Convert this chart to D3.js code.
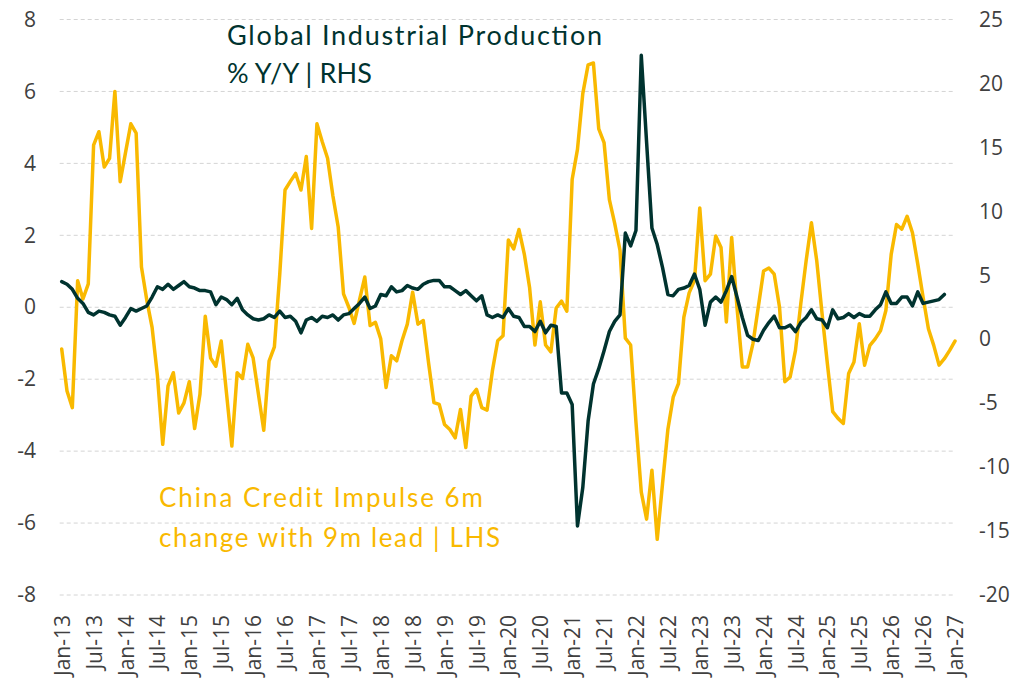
<!DOCTYPE html>
<html>
<head>
<meta charset="utf-8">
<script src="https://cdn.jsdelivr.net/npm/d3@7"></script>
<style>
  body { margin: 0; background: #fff; }
  svg { display: block; }
</style>
</head>
<body>
<div id="vis-container"></div>
<script>
/* CHART */

// x tick labels, one every 6 months (month index 0 = Jan-13)
const tickLabels = ["Jan-13","Jul-13","Jan-14","Jul-14","Jan-15","Jul-15","Jan-16","Jul-16",
	"Jan-17","Jul-17","Jan-18","Jul-18","Jan-19","Jul-19","Jan-20","Jul-20","Jan-21","Jul-21",
	"Jan-22","Jul-22","Jan-23","Jul-23","Jan-24","Jul-24","Jan-25","Jul-25","Jan-26","Jul-26","Jan-27"];

const leftTicks = [-8, -6, -4, -2, 0, 2, 4, 6, 8];
const rightTicks = [-20, -15, -10, -5, 0, 5, 10, 15, 20, 25];

// China credit impulse 6m change, 9m lead (LHS), monthly from Jan-13
const creditImpulse = [
	-1.16,-2.33,-2.79,0.74,0.23,0.65,4.51,4.88,3.9,4.14,6.0,3.49,
	4.3,5.1,4.84,1.12,0.2,-0.56,-1.9,-3.81,-2.19,-1.82,-2.94,-2.66,
	-2.07,-3.37,-2.42,-0.25,-1.41,-1.64,-0.94,-2.4,-3.86,-1.82,-1.98,-1.03,
	-1.41,-2.42,-3.42,-1.5,-1.1,0.9,3.26,3.5,3.72,3.26,4.19,2.19,
	5.1,4.6,4.14,3.1,2.23,0.37,0.0,-0.45,0.2,0.84,-0.51,-0.42,
	-0.88,-2.23,-1.35,-1.49,-0.93,-0.47,0.42,-0.47,-0.37,-1.55,-2.65,-2.7,
	-3.26,-3.4,-3.63,-2.84,-3.9,-2.47,-2.28,-2.79,-2.86,-1.77,-0.93,-0.79,
	1.87,1.62,2.16,1.48,0.54,-1.05,0.15,-1.05,-1.24,-0.02,0.17,-0.11,
	3.55,4.39,5.94,6.74,6.79,4.96,4.58,2.99,2.33,1.58,-0.86,-1.05,
	-3.2,-5.14,-5.89,-4.53,-6.45,-4.9,-3.4,-2.5,-2.12,-0.28,0.4,0.74,
	2.76,0.74,0.92,1.98,1.66,-0.41,1.94,0.0,-1.66,-1.66,-1.01,0.0,
	1.01,1.09,0.92,0.0,-2.07,-1.94,-1.2,0.1,1.29,2.35,1.29,-0.18,
	-1.57,-2.9,-3.09,-3.23,-1.84,-1.52,-0.46,-1.61,-1.06,-0.88,-0.65,-0.09,
	1.47,2.3,2.17,2.53,2.07,1.2,0.28,-0.6,-1.06,-1.61,-1.43,-1.2,
	-0.94
];

// Global industrial production % Y/Y (RHS), monthly from Jan-13
const globalIP = [
	4.5,4.3,3.9,3.2,2.8,2.1,1.9,2.2,2.1,1.9,1.8,1.1,
	1.7,2.4,2.2,2.4,2.6,3.3,4.1,3.9,4.3,3.9,4.2,4.5,
	4.1,4.0,3.8,3.8,3.7,2.7,3.3,3.1,2.7,3.2,2.3,1.9,
	1.6,1.5,1.6,1.9,1.7,2.2,1.7,1.8,1.4,0.5,1.5,1.7,
	1.4,1.8,1.7,1.9,1.5,1.9,2.0,2.4,2.8,3.3,2.4,2.6,
	3.5,3.4,4.1,3.7,3.8,4.2,4.0,3.9,4.3,4.5,4.6,4.6,
	4.1,4.1,3.8,3.5,3.8,3.4,3.0,3.4,1.9,1.7,1.9,1.7,
	2.4,1.8,1.7,1.0,1.0,0.6,1.4,0.5,1.1,1.0,-4.2,-4.2,
	-5.1,-14.6,-11.6,-6.4,-3.5,-2.3,-0.9,0.6,1.4,1.9,8.3,7.3,
	8.5,22.2,15.4,8.7,7.4,5.6,3.5,3.4,3.9,4.0,4.2,5.1,
	3.9,1.1,2.9,3.3,2.9,3.8,4.9,3.3,1.7,0.3,0.0,-0.1,
	0.7,1.3,1.8,0.9,0.9,1.1,0.6,1.3,1.7,2.3,1.6,1.5,
	0.9,2.3,1.6,1.7,2.0,1.7,2.0,1.8,1.8,2.3,2.7,3.7,
	2.8,2.8,3.3,3.3,2.6,3.7,2.8,2.9,3.0,3.1,3.5
];

const width = 1018,
	height = 684,
	plotLeft = 61.7,
	plotRight = 955,
	plotTop = 19.5,
	plotBottom = 595;

const yellow = "#f9b900",
	dark = "#00332f",
	tickFont = "'Open Sans', sans-serif",
	noteFont = "Lato, 'Open Sans', sans-serif";

let x = d3.scaleLinear().domain([0, 168]).range([plotLeft, plotRight]);
let yL = d3.scaleLinear().domain([-8, 8]).range([plotBottom, plotTop]);
let yR = d3.scaleLinear().domain([-20, 25]).range([plotBottom, plotTop]);

let svg = d3.select('#vis-container')
	.append('svg')
	.attr('width', width)
	.attr('height', height);

// dashed gridlines
svg.append("g")
	.selectAll("line")
	.data(leftTicks)
	.join("line")
	.attr("x1", plotLeft - 2)
	.attr("x2", plotRight)
	.attr("y1", d => yL(d))
	.attr("y2", d => yL(d))
	.attr("stroke", "#d4d4d4")
	.attr("stroke-width", 1)
	.attr("stroke-dasharray", "4,3");

// plain hyphen minus, like the original
const fmt = d => String(d);

// left axis
let gL = svg.append("g")
	.attr("transform", "translate(36,0)")
	.call(d3.axisLeft(yL).tickValues(leftTicks).tickFormat(fmt).tickSize(0).tickPadding(0));
gL.select(".domain").remove();
gL.selectAll("text")
	.attr("font-family", tickFont)
	.attr("font-size", 21)
	.attr("fill", "#404040");

// right axis
let gR = svg.append("g")
	.attr("transform", "translate(979,0)")
	.call(d3.axisRight(yR).tickValues(rightTicks).tickFormat(fmt).tickSize(0).tickPadding(0));
gR.select(".domain").remove();
gR.selectAll("text")
	.attr("font-family", tickFont)
	.attr("font-size", 21)
	.attr("fill", "#404040");

// bottom axis, labels rotated
let gX = svg.append("g")
	.attr("transform", `translate(0,${plotBottom})`)
	.call(d3.axisBottom(x)
		.tickValues(d3.range(0, 169, 6))
		.tickFormat((d, i) => tickLabels[i])
		.tickSize(0).tickPadding(0));
gX.select(".domain").remove();
gX.selectAll("text")
	.attr("font-family", tickFont)
	.attr("font-size", 21)
	.attr("fill", "#404040")
	.attr("text-anchor", "end")
	.attr("transform", "translate(0,20) rotate(-90)")
	.attr("x", 0)
	.attr("y", 0)
	.attr("dy", "0.36em");

let lineL = d3.line()
	.x((d, i) => x(i))
	.y(d => yL(d));

let lineR = d3.line()
	.x((d, i) => x(i))
	.y(d => yR(d));

svg.append("path")
	.datum(creditImpulse)
	.attr("fill", "none")
	.attr("stroke", yellow)
	.attr("stroke-width", 3.5)
	.attr("stroke-linejoin", "round")
	.attr("stroke-linecap", "round")
	.attr("d", lineL);

svg.append("path")
	.datum(globalIP)
	.attr("fill", "none")
	.attr("stroke", dark)
	.attr("stroke-width", 3.5)
	.attr("stroke-linejoin", "round")
	.attr("stroke-linecap", "round")
	.attr("d", lineR);

// series notes
const notes = [
	{text: "Global Industrial Production", x: 227, y: 45, len: 375, size: 27, color: dark},
	{text: "% Y/Y | RHS", x: 227, y: 83, len: 145, size: 27, color: dark},
	{text: "China Credit Impulse 6m", x: 159, y: 507, len: 324, size: 26, color: yellow},
	{text: "change with 9m lead | LHS", x: 159, y: 547, len: 341, size: 26, color: yellow}
];

svg.append("g")
	.selectAll("text")
	.data(notes)
	.join("text")
	.attr("x", d => d.x)
	.attr("y", d => d.y)
	.attr("font-family", noteFont)
	.attr("font-size", d => d.size)
	.attr("fill", d => d.color)
	.attr("textLength", d => d.len)
	.attr("lengthAdjust", "spacing")
	.text(d => d.text);
</script>
</body>
</html>
